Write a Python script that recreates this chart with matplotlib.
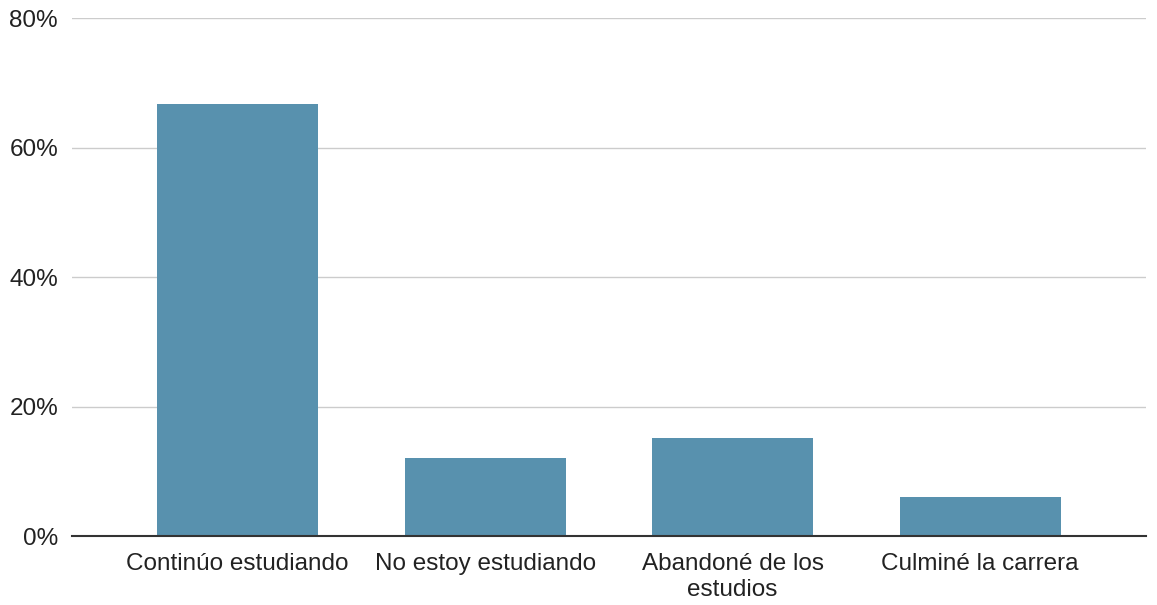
import numpy as np
import matplotlib.pyplot as plt
from matplotlib.ticker import FuncFormatter

categories = ["Continúo estudiando", "No estoy estudiando", "Abandoné de los\nestudios", "Culminé la carrera"]
values = [66.7, 12.1, 15.2, 6.1]
yticks = [0, 20, 40, 60, 80]

plt.rcParams['font.family'] = ['Liberation Sans', 'DejaVu Sans']

fig = plt.figure(figsize=(11.57, 6.05), dpi=100)
ax = fig.add_axes([0.0622, 0.114, 0.9283, 0.856])

x = np.arange(len(categories))
ax.bar(x, values, width=0.65, color='#5891ae', zorder=3)

ax.set_xlim(-0.669, len(categories) - 1 + 0.67)
ax.set_ylim(0, 80)
ax.set_yticks(yticks)
ax.yaxis.set_major_formatter(FuncFormatter(lambda v, p: f"{v:.0f}%"))
ax.set_xticks(x)
ax.set_xticklabels(categories, linespacing=1.25)

ax.grid(True, axis='y', color='#cccccc', linewidth=1, zorder=0)
for s in ['top', 'right', 'left']:
    ax.spines[s].set_visible(False)
ax.spines['bottom'].set_color('#333333')
ax.spines['bottom'].set_linewidth(1.5)
ax.spines['bottom'].set_zorder(4)

ax.tick_params(axis='both', length=0, labelsize=17.5, colors='#222222')
ax.tick_params(axis='y', pad=10)
ax.tick_params(axis='x', pad=12)

fig.savefig('out.png', dpi=100)
